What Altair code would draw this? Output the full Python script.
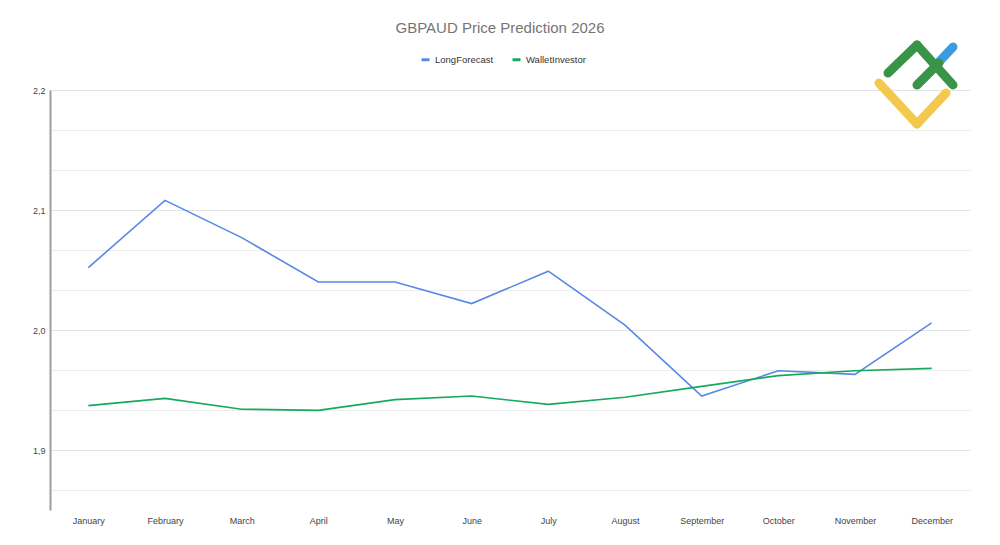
import altair as alt
import pandas as pd

months = ["January", "February", "March", "April", "May", "June",
          "July", "August", "September", "October", "November", "December"]
long_forecast = [2.052, 2.108, 2.077, 2.040, 2.040, 2.022, 2.049, 2.004, 1.945, 1.966, 1.963, 2.006]
wallet_investor = [1.937, 1.943, 1.934, 1.933, 1.942, 1.945, 1.938, 1.944, 1.953, 1.962, 1.966, 1.968]
series_names = ["LongForecast", "WalletInvestor"]
series_colors = ["#5689e5", "#17a95b"]
y_grid_values = [1.8667, 1.9, 1.9333, 1.9667, 2.0, 2.0333, 2.0667, 2.1, 2.1333, 2.1667, 2.2]

df = pd.DataFrame({
    "month": months * 2,
    "value": long_forecast + wallet_investor,
    "series": [series_names[0]] * 12 + [series_names[1]] * 12,
})

FONT = "Liberation Sans"
major_test = "abs(datum.value*10 - round(datum.value*10)) < 0.001"

lines = alt.Chart(df).mark_line(strokeWidth=1.6).encode(
    x=alt.X("month:N", sort=months,
            scale=alt.Scale(type="point", padding=0.5),
            axis=alt.Axis(title=None, domain=False, ticks=False, grid=False,
                          labelAngle=0, labelFontSize=9, labelColor="#444444",
                          labelFont=FONT, labelPadding=6)),
    y=alt.Y("value:Q",
            scale=alt.Scale(domain=[1.85, 2.2], nice=False, zero=False),
            axis=alt.Axis(title=None, values=y_grid_values,
                          labelExpr="(abs(datum.value*10 - round(datum.value*10)) < 0.001) ? replace(format(datum.value, '.1f'), '.', ',') : ''",
                          labelFontSize=9, labelColor="#444444", labelFont=FONT,
                          labelPadding=5, ticks=False,
                          domainColor="#9e9e9e", domainWidth=2,
                          gridColor={"condition": {"test": major_test, "value": "#e3e3e3"}, "value": "#ececec"},
                          gridWidth=1.2)),
    color=alt.Color("series:N",
                    scale=alt.Scale(domain=series_names, range=series_colors),
                    legend=alt.Legend(title=None, orient="none", direction="horizontal",
                                      legendX=370, legendY=-36,
                                      symbolType="stroke", symbolStrokeWidth=3,
                                      symbolSize=64, labelFontSize=9.5,
                                      labelColor="#333333", labelFont=FONT,
                                      columnPadding=12)),
)

def seg(x1, y1, x2, y2, color):
    return alt.Chart(pd.DataFrame({"k": [0]})).mark_rule(
        strokeWidth=9, strokeCap="round", color=color
    ).encode(x=alt.value(x1), y=alt.value(y1), x2=alt.value(x2), y2=alt.value(y2))

logo = [
    seg(829, -7, 867, 34, "#f2c94c"),
    seg(867, 34, 896, 3, "#f2c94c"),
    seg(887, -26, 903, -43, "#3d9be3"),
    seg(838, -17, 867, -45, "#3a9447"),
    seg(867, -45, 903, -5, "#3a9447"),
    seg(867, -5, 889, -27, "#3a9447"),
]

chart = alt.layer(lines, *logo).properties(
    width=920, height=420,
    title=alt.TitleParams("GBPAUD Price Prediction 2026", fontSize=15, font=FONT,
                          color="#757575", fontWeight="normal", anchor="middle",
                          dx=-10, offset=5),
    autosize=alt.AutoSizeParams(type="none"),
    padding={"left": 50, "top": 90, "right": 30, "bottom": 35},
    background="white",
).configure_view(stroke=None)

chart.save("out.html", embed_options={"renderer": "svg", "actions": False})
